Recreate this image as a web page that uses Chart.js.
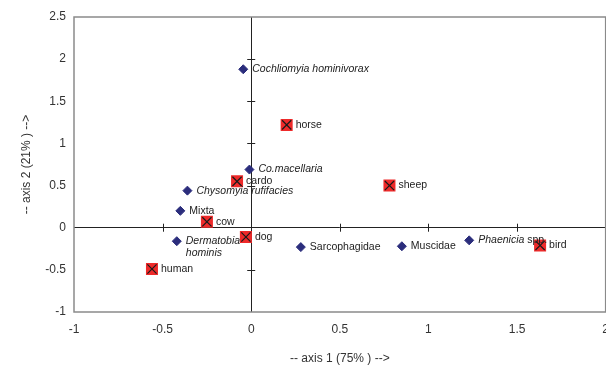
<!DOCTYPE html>
<html>
<head>
  <meta charset="UTF-8">
  <title>Axis 1 / axis 2</title>
  <script src="https://cdn.jsdelivr.net/npm/chart.js"></script>
  <style>
    html, body { margin: 0; padding: 0; background: #fff; overflow: hidden; }
    #wrap { width: 619px; height: 366px; }
  </style>
</head>
<body>
  <div id="wrap"><canvas id="plot" width="619" height="366"></canvas></div>

  <script>
    // flies (diamonds)
    const flyNames = ['Cochliomyia hominivorax', 'Co.macellaria', 'Chysomyia rufifacies', 'Mixta',
      'Dermatobia\nhominis', 'Sarcophagidae', 'Muscidae', 'Phaenicia spp.'];
    const flyX = [-0.045, -0.01, -0.36, -0.40, -0.42, 0.28, 0.85, 1.23];
    const flyY = [1.88, 0.69, 0.44, 0.20, -0.16, -0.23, -0.22, -0.15];

    // hosts (red squares)
    const hostNames = ['horse', 'cardo', 'sheep', 'cow', 'dog', 'human', 'bird'];
    const hostX = [0.20, -0.08, 0.78, -0.25, -0.03, -0.56, 1.63];
    const hostY = [1.22, 0.55, 0.50, 0.07, -0.11, -0.49, -0.21];

    const xTicks = [-1, -0.5, 0, 0.5, 1, 1.5, 2];
    const yTicks = [-1, -0.5, 0, 0.5, 1, 1.5, 2, 2.5];

    const italicWords = ['Cochliomyia', 'hominivorax', 'Co.macellaria', 'Chysomyia', 'rufifacies',
      'Dermatobia', 'hominis', 'Phaenicia'];

    const FONT = '"Liberation Sans", Arial, sans-serif';
    const pts = (xs, ys) => xs.map((x, i) => ({ x: x, y: ys[i] }));

    // grey box + tick marks crossing the zero lines
    const frame = {
      id: 'frame',
      beforeDatasetsDraw(chart) {
        const c = chart.ctx, a = chart.chartArea;
        const sx = chart.scales.x, sy = chart.scales.y;
        const x0 = sx.getPixelForValue(0), y0 = sy.getPixelForValue(0);
        c.save();
        c.strokeStyle = '#8a8a8a';
        c.lineWidth = 1.5;
        c.strokeRect(a.left, a.top, a.right - a.left, a.bottom - a.top);
        c.strokeStyle = '#222';
        c.lineWidth = 1;
        c.beginPath();
        xTicks.slice(1, -1).forEach(v => {
          if (v === 0) return;
          const p = Math.round(sx.getPixelForValue(v)) + 0.5;
          c.moveTo(p, y0 - 4); c.lineTo(p, y0 + 4);
        });
        yTicks.slice(1, -1).forEach(v => {
          if (v === 0) return;
          const p = Math.round(sy.getPixelForValue(v)) + 0.5;
          c.moveTo(x0 - 4, p); c.lineTo(x0 + 4, p);
        });
        c.stroke();
        c.restore();
      }
    };

    // point labels, species names in italics
    const pointLabels = {
      id: 'pointLabels',
      afterDatasetsDraw(chart) {
        const c = chart.ctx;
        c.save();
        c.fillStyle = '#222';
        c.textBaseline = 'middle';
        [[0, flyNames], [1, hostNames]].forEach(([di, names]) => {
          const meta = chart.getDatasetMeta(di);
          meta.data.forEach((el, i) => {
            names[i].split('\n').forEach((line, li) => {
              let x = el.x + 9;
              const y = el.y + li * 12;
              line.split(' ').forEach((w, wi) => {
                c.font = (italicWords.includes(w) ? 'italic ' : '') + '10.5px ' + FONT;
                const txt = (wi > 0 ? ' ' : '') + w;
                c.fillText(txt, x, y);
                x += c.measureText(txt).width;
              });
            });
          });
        });
        c.restore();
      }
    };

    const zeroLine = ctx => ctx.tick && ctx.tick.value === 0 ? '#222' : 'transparent';

    new Chart(document.getElementById('plot'), {
      type: 'scatter',
      data: {
        datasets: [
          {
            label: 'flies',
            data: pts(flyX, flyY),
            order: 2,
            pointStyle: 'rectRot',
            pointRadius: 4.5,
            backgroundColor: '#2b2d7c',
            borderColor: '#2b2d7c',
            borderWidth: 1
          },
          {
            label: 'hosts',
            data: pts(hostX, hostY),
            order: 1,
            pointStyle: 'rect',
            pointRadius: 8.5,
            backgroundColor: '#ee2a2a',
            borderColor: '#ee2a2a',
            borderWidth: 0
          },
          {
            label: 'hosts x',
            data: pts(hostX, hostY),
            order: 0,
            pointStyle: 'crossRot',
            pointRadius: 6.5,
            borderColor: '#1a1a1a',
            borderWidth: 1.2
          }
        ]
      },
      options: {
        responsive: false,
        animation: false,
        layout: { padding: { top: 17, right: 0, left: 0, bottom: 0 } },
        plugins: {
          legend: { display: false },
          tooltip: { enabled: false }
        },
        scales: {
          x: {
            type: 'linear',
            min: -1, max: 2,
            afterBuildTicks: s => { s.ticks = xTicks.map(v => ({ value: v })); },
            afterFit: s => { s.height = 54; },
            grid: { color: zeroLine, lineWidth: 1, drawTicks: false },
            border: { display: false },
            ticks: {
              padding: 10,
              color: '#333',
              font: { size: 12, family: FONT },
              maxRotation: 0,
              callback: v => String(v)
            },
            title: {
              display: true,
              text: '-- axis 1 (75% ) -->',
              color: '#333',
              font: { size: 12, family: FONT },
              padding: { top: 13, bottom: 0 }
            }
          },
          y: {
            type: 'linear',
            min: -1, max: 2.5,
            afterBuildTicks: s => { s.ticks = yTicks.map(v => ({ value: v })); },
            afterFit: s => { s.width = 74; },
            grid: { color: zeroLine, lineWidth: 1, drawTicks: false },
            border: { display: false },
            ticks: {
              padding: 8,
              color: '#333',
              font: { size: 12, family: FONT },
              callback: v => String(v)
            },
            title: {
              display: true,
              text: '-- axis 2 (21% ) -->',
              color: '#333',
              font: { size: 12, family: FONT },
              padding: { top: 19, bottom: 0 }
            }
          }
        }
      },
      plugins: [frame, pointLabels]
    });
  </script>
</body>
</html>
